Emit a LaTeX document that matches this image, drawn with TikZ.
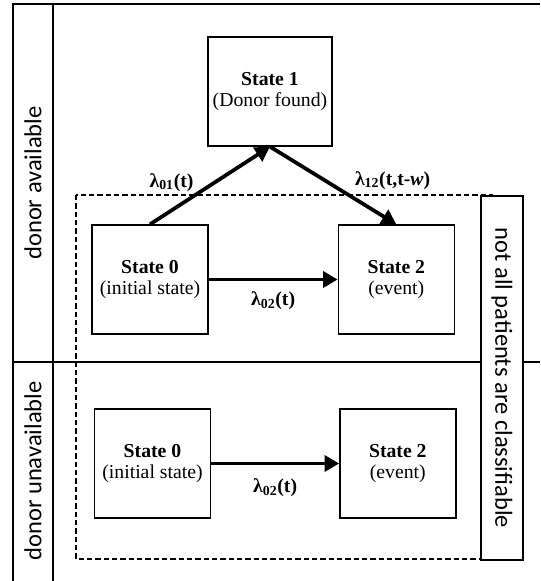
\documentclass[tikz,border=0pt]{standalone}
\usepackage{fontspec}
\setmainfont{Liberation Serif}
\newfontfamily\sidefont{Carlito}
\usepackage{tikz}
\usetikzlibrary{arrows.meta,positioning}

\begin{document}
\begin{tikzpicture}[x=0.75pt,y=-0.75pt,
  statebox/.style={draw,line width=1pt,minimum width=87pt,minimum height=81.75pt,inner sep=2pt,align=center,font=\fontsize{14.8pt}{16pt}\selectfont},
  rate/.style={inner sep=1pt,font=\fontsize{14.8pt}{16pt}\selectfont\bfseries},
  trans/.style={-{Triangle[length=11pt,width=12pt]},line width=2.8pt},
  side/.style={font=\sidefont\fontsize{18.4pt}{20pt}\selectfont}]
  \useasboundingbox (0,0) rectangle (540,581);
  % frame of the two rows
  \draw[line width=1pt] (540,4) -- (13,4) -- (13,581);
  \draw[line width=1pt] (53,4) -- (53,581);
  \draw[line width=1pt] (13,362) -- (540,362);
  \node[side,rotate=90] (avail) at (33,183) {donor available};
  \node[side,rotate=90] (unavail) at (33,471) {donor unavailable};
  % region of the classifiable patients
  \draw[line width=1pt,dash pattern=on 4pt off 2.25pt] (76,195) rectangle (492,559);
  \node[side,draw,fill=white,line width=1pt,rotate=-90,minimum width=273pt,minimum height=31.5pt,inner sep=0pt] (cls) at (502,378) {not all patients are classifiable};
  % donor available
  \node[statebox] (st0) at (150,279.5) {\textbf{State 0}\\(initial state)};
  \node[statebox,right=96.75pt of st0] (st2) {\textbf{State 2}\\(event)};
  \node[statebox,minimum width=93pt] (st1) at (270,91.5) {\textbf{State 1}\\(Donor found)};
  \draw[trans] (st0.north) -- node[rate,midway,left=10pt,yshift=2.5pt] {λ\textsubscript{01}(t)} (st1.south);
  \draw[trans] (st1.south) -- node[rate,midway,right=14pt,yshift=4pt] {λ\textsubscript{12}(t,t-\textit{w})} (st2.north);
  \draw[trans] (st0) -- node[rate,midway,below=7pt] {λ\textsubscript{02}(t)} (st2);
  % donor unavailable
  \node[statebox] (st0u) at (152.5,463.5) {\textbf{State 0}\\(initial state)};
  \node[statebox,right=96pt of st0u] (st2u) {\textbf{State 2}\\(event)};
  \draw[trans] (st0u) -- node[rate,midway,below=9pt] {λ\textsubscript{02}(t)} (st2u);
\end{tikzpicture}
\end{document}
